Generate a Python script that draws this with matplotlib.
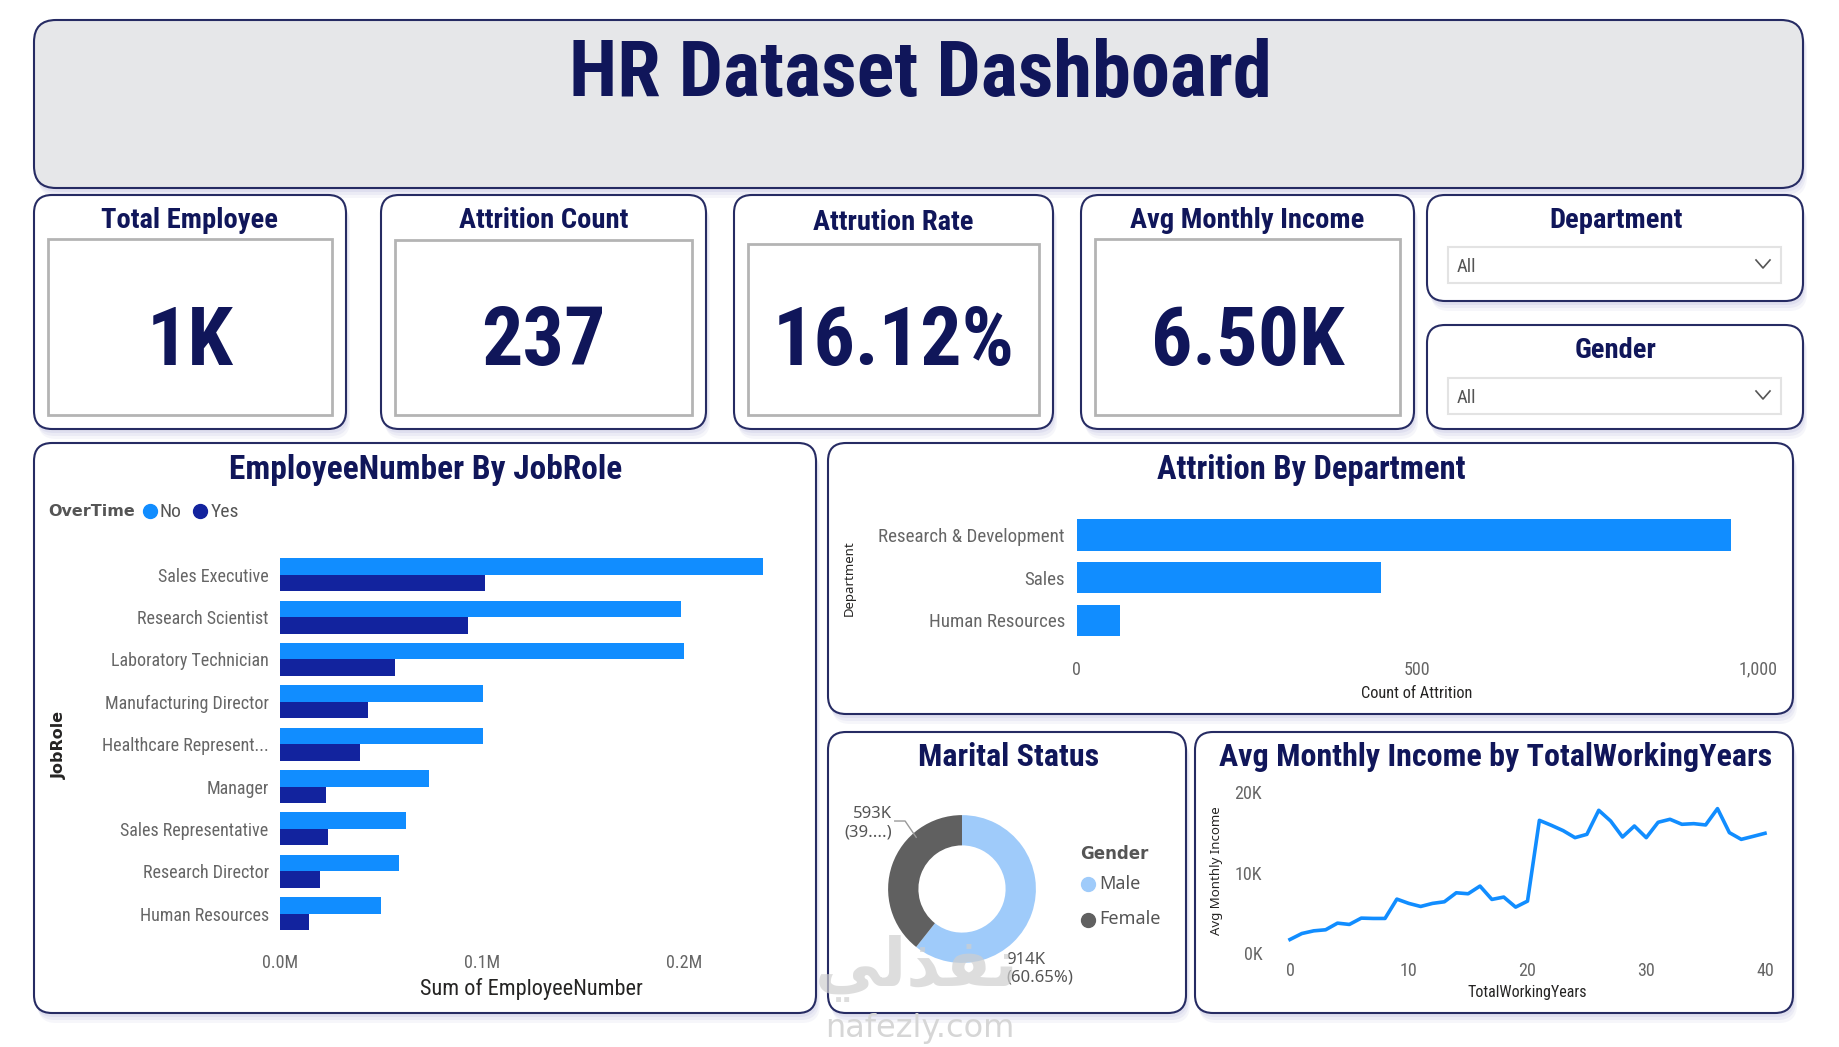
import matplotlib
matplotlib.use('Agg')
import matplotlib.pyplot as plt
from matplotlib import font_manager
from matplotlib.patches import FancyBboxPatch
import numpy as np

W, H = 1839, 1047

installed = {f.name for f in font_manager.fontManager.ttflist}


def pick(*names):
    for n in names:
        if n in installed:
            return n
    return 'DejaVu Sans'


NARROW = pick('Liberation Sans Narrow', 'Roboto Condensed', 'Roboto', 'DejaVu Sans')
PLAIN = pick('Noto Sans', 'DejaVu Sans')
plt.rcParams['font.family'] = [NARROW, 'DejaVu Sans']

# ---- data ----
dashboard_title = 'HR Dataset Dashboard'
kpi_titles = ['Total Employee', 'Attrition Count', 'Attrution Rate', 'Avg Monthly Income']
kpi_values = ['1K', '237', '16.12%', '6.50K']
slicers = ['Department', 'Gender']

job_roles = ['Sales Executive', 'Research Scientist', 'Laboratory Technician',
             'Manufacturing Director', 'Healthcare Represent...', 'Manager',
             'Sales Representative', 'Research Director', 'Human Resources']
emp_no_overtime = [239500, 198800, 200000, 100600, 100600, 73800, 62200, 58700, 50000]
emp_yes_overtime = [101700, 93000, 57000, 43600, 39500, 22700, 23800, 19800, 14000]
overtime_labels = ['No', 'Yes']

departments = ['Research & Development', 'Sales', 'Human Resources']
attrition_count = [961, 446, 63]

genders = ['Male', 'Female']
gender_sum = [914, 593]  # thousands

working_years = list(range(41))
avg_income = [1730, 2470, 2800, 2930, 3750, 3590, 4370, 4330, 4330, 6720,
              6190, 5810, 6190, 6390, 7500, 7380, 8330, 6680, 6970, 5730,
              6470, 16450, 15840, 15180, 14310, 14720, 17690, 16370, 14390, 15750,
              14310, 16210, 16580, 15960, 16040, 15880, 17900, 14930, 14100, 14470,
              14850]

# ---- colours ----
NAVY = '#10165a'
EDGE = '#262b63'
SHADOW = '#c5c6e4'
TICK = '#666666'
BLUE = '#118dff'
DARK_BLUE = '#12239e'
MALE = '#9fcbfa'
FEMALE = '#606060'

fig = plt.figure(figsize=(W / 100, H / 100), dpi=100)
fig.patch.set_facecolor('white')
bg = fig.add_axes([0, 0, 1, 1])
bg.set_xlim(0, W)
bg.set_ylim(H, 0)
bg.axis('off')


def px_axes(x0, y0, x1, y1):
    a = fig.add_axes([x0 / W, 1 - y1 / H, (x1 - x0) / W, (y1 - y0) / H])
    a.set_facecolor('none')
    for s in a.spines.values():
        s.set_visible(False)
    a.tick_params(length=0, labelcolor=TICK, labelsize=13)
    return a


def card(x0, y0, x1, y1, face='white', r=18):
    for off, al in [(10, 0.15), (7, 0.22), (4, 0.3)]:
        bg.add_patch(FancyBboxPatch((x0 + off * 0.4, y0 + off), x1 - x0, y1 - y0,
                                    boxstyle=f'round,pad=0,rounding_size={r}',
                                    fc=SHADOW, ec='none', alpha=al))
    bg.add_patch(FancyBboxPatch((x0, y0), x1 - x0, y1 - y0,
                                boxstyle=f'round,pad=0,rounding_size={r}',
                                fc=face, ec=EDGE, lw=1.5))


# title banner
card(34, 20, 1803, 188, face='#e6e7e9', r=22)
bg.text(920, 74, dashboard_title, ha='center', va='center', fontsize=56.5,
        fontweight='bold', color=NAVY)

# KPI cards
kpi_boxes = [(34, 346, 48, 332, 239), (381, 706, 395, 692, 240),
             (734, 1053, 748, 1039, 244), (1081, 1414, 1095, 1400, 239)]
for (x0, x1, ix0, ix1, iy0), t, v in zip(kpi_boxes, kpi_titles, kpi_values):
    card(x0, 195, x1, 429)
    bg.add_patch(plt.Rectangle((ix0, iy0), ix1 - ix0, 415 - iy0, fc='white',
                               ec='#b4b4b4', lw=2))
    bg.text((x0 + x1) / 2, 221 if iy0 < 244 else 223, t, ha='center', va='center',
            fontsize=20.5, fontweight='bold', color=NAVY)
    bg.text((ix0 + ix1) / 2, 343, v, ha='center', va='center', fontsize=59,
            fontweight='bold', color=NAVY)

# slicers
for name, (y0, y1, dy0, dy1, ty) in zip(slicers, [(195, 301, 247, 283, 220),
                                                  (325, 429, 378, 414, 350)]):
    card(1427, y0, 1803, y1)
    bg.text(1616, ty, name, ha='center', va='center', fontsize=20.5,
            fontweight='bold', color=NAVY)
    bg.add_patch(plt.Rectangle((1448, dy0), 1781 - 1448, dy1 - dy0, fc='white',
                               ec='#e3e3e3', lw=1.5))
    cy = (dy0 + dy1) / 2
    bg.text(1457, cy + 2, 'All', ha='left', va='center', fontsize=13.5, color='#555555')
    bg.plot([1756, 1763, 1770], [cy - 5, cy + 3, cy - 5], color='#555555', lw=1.2)

# panels
card(34, 443, 816, 1013)
card(828, 443, 1793, 714)
card(828, 732, 1186, 1013)
card(1195, 732, 1793, 1013)
bg.text(426, 470, 'EmployeeNumber By JobRole', ha='center', va='center',
        fontsize=24, fontweight='bold', color=NAVY)
bg.text(1311, 470, 'Attrition By Department', ha='center', va='center',
        fontsize=23.5, fontweight='bold', color=NAVY)
bg.text(1009, 757, 'Marital Status', ha='center', va='center',
        fontsize=23, fontweight='bold', color=NAVY)
bg.text(1496, 757, 'Avg Monthly Income by TotalWorkingYears', ha='center',
        va='center', fontsize=23, fontweight='bold', color=NAVY)

# ---- EmployeeNumber by JobRole ----
ax1 = px_axes(280.3, 553.5, 784.5, 934.8)
yy = np.arange(len(job_roles))
bh = 0.39
ax1.barh(yy - bh / 2, emp_no_overtime, height=bh, color=BLUE)
ax1.barh(yy + bh / 2, emp_yes_overtime, height=bh, color=DARK_BLUE)
ax1.set_ylim(len(job_roles) - 0.5, -0.5)
ax1.set_xlim(0, 250000)
ax1.set_yticks(yy, job_roles)
ax1.set_xticks([0, 100000, 200000], ['0.0M', '0.1M', '0.2M'])
ax1.tick_params(axis='y', pad=8.4)
ax1.tick_params(axis='x', pad=13.5)
bg.text(531, 989, 'Sum of EmployeeNumber', ha='center', va='center', fontsize=16,
        color='#252423')
bg.text(59, 745, 'JobRole', ha='center', va='center', rotation=90, fontsize=11.5,
        fontweight='bold', color='#252423', family='DejaVu Sans')
# legend
bg.text(48, 511, 'OverTime', ha='left', va='center', fontsize=11.5, fontweight='bold',
        color='#555555', family='DejaVu Sans')
for lx, lab, col in zip([150, 200.5], overtime_labels, [BLUE, DARK_BLUE]):
    bg.plot([lx], [511], 'o', ms=10, color=col)
    bg.text(lx + 10, 512, lab, ha='left', va='center', fontsize=14, color='#555555')

# ---- Attrition by Department ----
ax2 = px_axes(1076.6, 513.4, 1758, 641.8)
yd = np.arange(len(departments))
ax2.barh(yd, attrition_count, height=0.74, color=BLUE)
ax2.set_ylim(len(departments) - 0.5, -0.5)
ax2.set_xlim(0, 1000)
ax2.set_yticks(yd, departments)
ax2.set_xticks([0, 500, 1000], ['0', '500', '1,000'])
ax2.tick_params(axis='y', pad=8.4, labelsize=13.7)
ax2.tick_params(axis='x', pad=13.5)
bg.text(1417, 693, 'Count of Attrition', ha='center', va='center', fontsize=11.8,
        color='#252423')
bg.text(849, 578, 'Department', ha='center', va='center', rotation=90, fontsize=9.5,
        color='#252423', family=PLAIN)

# ---- Marital Status donut ----
ax3 = px_axes(842, 769, 1082, 1009)
ax3.pie(gender_sum, colors=[MALE, FEMALE], startangle=90, counterclock=False,
        radius=1, wedgeprops=dict(width=0.41, edgecolor='none'))
lim = 120 / 73.9
ax3.set_xlim(-lim, lim)
ax3.set_ylim(-lim, lim)
ax3.set_aspect('equal')
tot = sum(gender_sum)
ax3.text(0.60, -1.08, f'{gender_sum[0]}K\n({gender_sum[0] / tot * 100:.2f}%)',
         ha='left', va='center', fontsize=12, color='#555555', family=PLAIN,
         linespacing=1.15, clip_on=False)
ax3.text(-0.95, 0.89, f'{gender_sum[1]}K\n(39....)', ha='right', va='center',
         fontsize=12, color='#555555', family=PLAIN, linespacing=1.15,
         multialignment='right', clip_on=False)
ax3.plot([-0.91, -0.77, -0.62], [0.92, 0.92, 0.70], color='#999999', lw=1,
         clip_on=False)
bg.text(1080, 854, 'Gender', ha='left', va='center', fontsize=12, fontweight='bold',
        color='#555555', family='DejaVu Sans')
for ly, lab, col in zip([884, 919.5], genders, [MALE, FEMALE]):
    bg.plot([1088], [ly], 'o', ms=10, color=col)
    bg.text(1099, ly, lab, ha='left', va='center', fontsize=13, color='#555555',
            family=PLAIN)

# ---- Avg Monthly Income by TotalWorkingYears ----
ax4 = px_axes(1290, 791.6, 1765, 953.5)
ax4.plot(working_years, avg_income, color=BLUE, lw=2.6, solid_joinstyle='round',
         clip_on=False)
ax4.set_xlim(0, 40)
ax4.set_ylim(0, 20000)
ax4.set_xticks([0, 10, 20, 30, 40])
ax4.set_yticks([0, 10000, 20000], ['0K', '10K', '20K'])
ax4.tick_params(axis='y', pad=20)
ax4.tick_params(axis='x', pad=6)
bg.text(1527, 992, 'TotalWorkingYears', ha='center', va='center', fontsize=11.5,
        color='#252423')
bg.text(1217, 871, 'Avg Monthly Income', ha='center', va='center', rotation=90,
        fontsize=9.5, color='#252423', family=PLAIN)

# watermark
fig.text(917 / W, 1 - 968 / H, '\ufef2\ufedf\ufeac\ufed4\ufee7', ha='center',
         va='center', fontsize=48, fontweight='bold', color='#cfcfcf', alpha=0.7,
         family='DejaVu Sans')
fig.text(920 / W, 1 - 1028 / H, 'nafezly.com', ha='center', va='center',
         fontsize=23, color='#d6d6d6', family='DejaVu Sans')

fig.savefig('out.png', dpi=100)
